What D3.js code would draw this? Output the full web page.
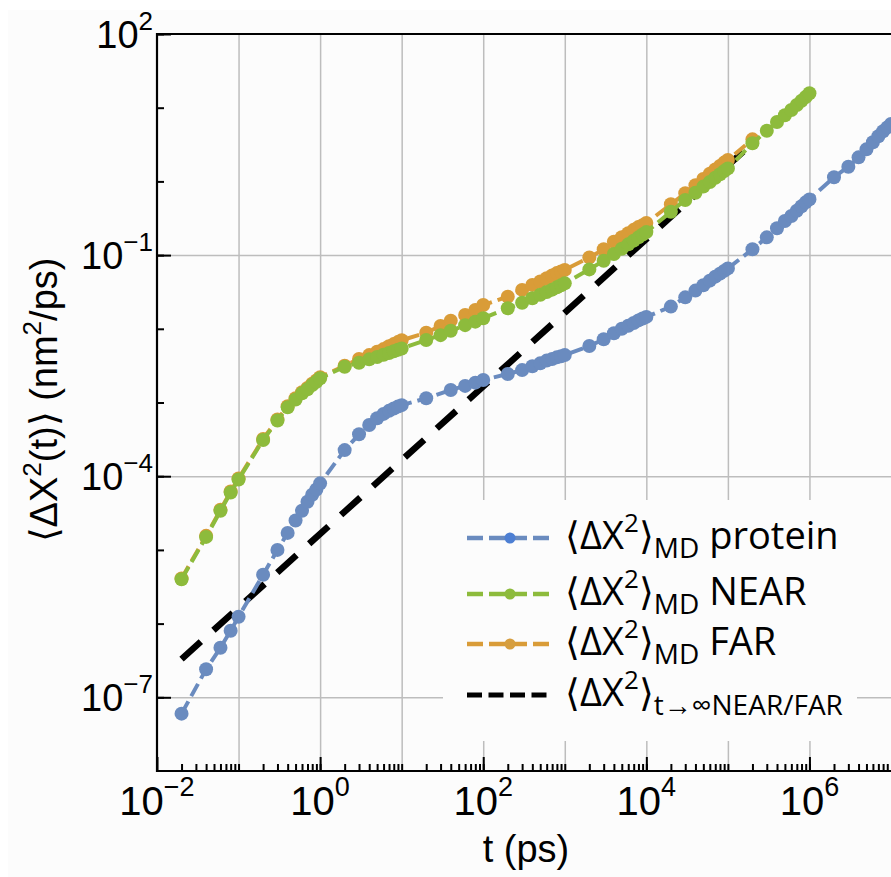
<!DOCTYPE html>
<html><head><meta charset="utf-8">
<script src="https://cdn.jsdelivr.net/npm/d3@7/dist/d3.min.js"></script>
<style>body{margin:0;background:#fff}</style>
</head><body>
<svg id="chart" width="891" height="877"></svg>
<script>
// ---------------- data ----------------
const seriesNames = ["protein", "NEAR", "FAR"];

const tProtein = [0.02,0.04,0.06,0.08,0.1,0.2,0.3,0.4,0.5,0.6,0.7,0.8,0.9,1,2,3,4,5,6,7,8,9,10,20,40,60,80,100,200,300,400,500,600,700,800,900,1000,2000,3000,4000,5000,6000,7000,8000,9000,1e4,2e4,3e4,4e4,5e4,6e4,7e4,8e4,9e4,1e5,2e5,3e5,4e5,5e5,6e5,7e5,8e5,9e5,1e6,2e6,3e6,4e6,5e6,6e6,7e6,8e6,9e6,1e7];
const yProtein = [6.0e-8,2.4e-7,4.7e-7,8.0e-7,1.24e-6,4.6e-6,1.0e-5,1.7e-5,2.5e-5,3.4e-5,4.5e-5,5.6e-5,6.6e-5,8.0e-5,2.26e-4,3.7e-4,4.95e-4,6.1e-4,7.0e-4,7.7e-4,8.3e-4,8.8e-4,9.2e-4,1.14e-3,1.48e-3,1.68e-3,1.86e-3,2.02e-3,2.44e-3,2.75e-3,3.1e-3,3.4e-3,3.7e-3,3.9e-3,4.1e-3,4.25e-3,4.4e-3,5.85e-3,7.2e-3,8.7e-3,1.0e-2,1.1e-2,1.2e-2,1.3e-2,1.38e-2,1.45e-2,2.0e-2,2.67e-2,3.3e-2,3.9e-2,4.5e-2,5.1e-2,5.6e-2,6.1e-2,6.6e-2,0.12,0.174,0.231,0.29,0.34,0.40,0.46,0.52,0.57,1.14,1.58,2.12,2.72,3.4,4.1,4.8,5.4,6.0];

const tNear = [0.02,0.04,0.06,0.08,0.1,0.2,0.3,0.4,0.5,0.6,0.7,0.8,0.9,1,2,3,4,5,6,7,8,9,10,20,30,40,60,80,100,200,300,400,500,600,700,800,900,1000,2000,3000,4000,5000,6000,7000,8000,9000,1e4,2e4,3e4,4e4,5e4,6e4,7e4,8e4,9e4,1e5,2e5,3e5,4e5,5e5,6e5,7e5,8e5,9e5,1e6];
const yNear = [4.0e-6,1.5e-5,3.4e-5,6.0e-5,9.0e-5,3.1e-4,5.7e-4,8.6e-4,1.1e-3,1.33e-3,1.51e-3,1.73e-3,1.91e-3,2.13e-3,3.06e-3,3.47e-3,3.85e-3,4.15e-3,4.45e-3,4.7e-3,4.95e-3,5.2e-3,5.4e-3,7.05e-3,8.2e-3,9.4e-3,1.12e-2,1.25e-2,1.39e-2,1.9e-2,2.26e-2,2.6e-2,2.9e-2,3.15e-2,3.4e-2,3.65e-2,3.9e-2,4.14e-2,6.4e-2,8.4e-2,0.1035,0.122,0.14,0.157,0.174,0.19,0.205,0.388,0.56,0.70,0.85,0.98,1.12,1.25,1.38,1.5,3.29,4.87,6.4,7.9,9.3,10.9,12.4,14.0,15.7];

const tFar = [0.02,0.04,0.06,0.08,0.1,0.2,0.3,0.4,0.5,0.6,0.7,0.8,0.9,1,2,3,4,5,6,7,8,9,10,20,30,40,60,80,100,200,300,400,500,600,700,800,900,1000,2000,3000,4000,5000,6000,7000,8000,9000,1e4,2e4,3e4,4e4,5e4,6e4,7e4,8e4,9e4,1e5,2e5];
const yFar = [4.1e-6,1.55e-5,3.5e-5,6.2e-5,9.3e-5,3.2e-4,5.9e-4,8.9e-4,1.14e-3,1.38e-3,1.57e-3,1.8e-3,1.99e-3,2.2e-3,3.15e-3,3.9e-3,4.4e-3,4.9e-3,5.3e-3,5.8e-3,6.2e-3,6.6e-3,7.0e-3,8.85e-3,1.09e-2,1.29e-2,1.54e-2,1.8e-2,2.1e-2,2.73e-2,3.37e-2,3.94e-2,4.4e-2,4.85e-2,5.3e-2,5.7e-2,6.0e-2,6.3e-2,9.3e-2,0.12,0.152,0.175,0.198,0.22,0.24,0.255,0.272,0.49,0.69,0.89,1.08,1.27,1.45,1.62,1.8,1.95,3.72];

const tLimit = [0.02, 2e5];
const yLimit = [3.3e-7, 3.3];

const xLabelPowers = [-2, 0, 2, 4, 6];
const yLabelPowers = [2, -1, -4, -7];

// ---------------- layout ----------------
const W = 891, H = 877;
const L = 157, R = 891, T = 34, B = 771;
const bg = "#fcfcfc";
const colors = {protein: "#6a8bbf", NEAR: "#8dbb3c", FAR: "#d99c38"};
const legendMarker = {protein: "#4d7fd3", NEAR: "#8dbb3c", FAR: "#d69e3f"};

const svg = d3.select("#chart");
svg.append("rect").attr("x", 8).attr("y", 10).attr("width", W).attr("height", H).attr("fill", bg);

const x = d3.scaleLog().domain([1e-2, 1e7]).range([L, R]);
const y = d3.scaleLog().domain([1e-8, 1e2]).range([B, T]);

const decadesX = d3.range(-1, 7).map(p => Math.pow(10, p));
const minorX = [];
for (let p = -2; p < 7; p++) for (let k = 1; k <= 9; k++) { const v = k * Math.pow(10, p); if (v > 1e-2 && v < 1e7) minorX.push(v); }
const decadesY = d3.range(-7, 3).map(p => Math.pow(10, p));

// grid
const grid = svg.append("g");
grid.append("g").attr("transform", `translate(0,${B})`)
  .call(d3.axisBottom(x).tickValues(decadesX).tickSize(-(B - T)).tickFormat(""))
  .call(g => g.select(".domain").remove())
  .call(g => g.selectAll("line").attr("stroke", "#bdbdbd").attr("stroke-width", 1.5));
grid.append("g").attr("transform", `translate(${L},0)`)
  .call(d3.axisLeft(y).tickValues(yLabelPowers.filter(p => p < 2).map(p => Math.pow(10, p))).tickSize(-(R - L)).tickFormat(""))
  .call(g => g.select(".domain").remove())
  .call(g => g.selectAll("line").attr("stroke", "#bdbdbd").attr("stroke-width", 1.5));

// legend background (covers gridlines)
svg.append("rect").attr("x", 443).attr("y", 500).attr("width", 414).attr("height", 241).attr("fill", bg);

// axes ticks (inward)
const axG = svg.append("g");
axG.append("g").attr("transform", `translate(0,${B})`)
  .call(d3.axisBottom(x).tickValues(minorX).tickSize(-7).tickFormat(""))
  .call(g => g.select(".domain").remove());
axG.append("g").attr("transform", `translate(0,${B})`)
  .call(d3.axisBottom(x).tickValues(xLabelPowers.map(p => Math.pow(10, p))).tickSize(-14).tickFormat(""))
  .call(g => g.select(".domain").remove());
axG.append("g").attr("transform", `translate(${L},0)`)
  .call(d3.axisLeft(y).tickValues(decadesY).tickSize(-7).tickFormat(""))
  .call(g => g.select(".domain").remove());
axG.append("g").attr("transform", `translate(${L},0)`)
  .call(d3.axisLeft(y).tickValues(yLabelPowers.map(p => Math.pow(10, p))).tickSize(-14).tickFormat(""))
  .call(g => g.select(".domain").remove());
axG.selectAll("line").attr("stroke", "#000").attr("stroke-width", 2);

// frame
svg.append("path").attr("d", `M${R + 5},${T}H${L}V${B}H${R + 5}`).attr("fill", "none").attr("stroke", "#000").attr("stroke-width", 2.2);

// tick labels
const fmtPow = p => p < 0 ? "\u2212" + (-p) : String(p);
const xl = svg.append("g").attr("font-family", "'Liberation Sans', Arial, sans-serif").attr("fill", "#000");
xLabelPowers.forEach(p => {
  const t = xl.append("text").attr("x", x(Math.pow(10, p))).attr("y", 815).attr("text-anchor", "middle").attr("font-size", 40);
  t.append("tspan").text("10");
  t.append("tspan").attr("font-size", 27).attr("dy", -19).text(fmtPow(p));
});
yLabelPowers.forEach(p => {
  const t = xl.append("text").attr("x", 153).attr("y", y(Math.pow(10, p)) + 14).attr("text-anchor", "end").attr("font-size", 38);
  t.append("tspan").text("10");
  t.append("tspan").attr("font-size", 26).attr("dy", -18).text(fmtPow(p));
});

// axis titles
xl.append("text").attr("x", 526).attr("y", 862).attr("text-anchor", "middle").attr("font-size", 38).text("t (ps)");
const yt = xl.append("text").attr("transform", "translate(57,400) rotate(-90)").attr("text-anchor", "middle").attr("font-size", 38);
yt.append("tspan").text("\u27E8\u0394X");
yt.append("tspan").attr("font-size", 26).attr("dy", -16).text("2");
yt.append("tspan").attr("dy", 16).text("(t)\u27E9 (nm");
yt.append("tspan").attr("font-size", 26).attr("dy", -16).text("2");
yt.append("tspan").attr("dy", 16).text("/ps)");

// data lines
const line = d3.line().x(d => x(d[0])).y(d => y(d[1]));
const limitPts = d3.zip(tLimit, yLimit);
svg.append("path").datum(limitPts).attr("d", line).attr("fill", "none").attr("stroke", "#000").attr("stroke-width", 6.5).attr("stroke-dasharray", "26,17");

const series = [
  {name: "protein", pts: d3.zip(tProtein, yProtein)},
  {name: "FAR", pts: d3.zip(tFar, yFar)},
  {name: "NEAR", pts: d3.zip(tNear, yNear)}
];
series.forEach(s => {
  const g = svg.append("g");
  g.append("path").datum(s.pts).attr("d", line).attr("fill", "none").attr("stroke", colors[s.name]).attr("stroke-width", 4).attr("stroke-dasharray", "14,6");
  g.selectAll("circle").data(s.pts).join("circle").attr("cx", d => x(d[0])).attr("cy", d => y(d[1])).attr("r", 7).attr("fill", colors[s.name]);
});

// legend
const legendRows = [
  {name: "protein", sub: "MD", label: " protein", ly: 538},
  {name: "NEAR", sub: "MD", label: " NEAR", ly: 594},
  {name: "FAR", sub: "MD", label: " FAR", ly: 644},
  {name: "limit", sub: "t\u2192\u221ENEAR/FAR", label: "", ly: 695}
];
const lg = svg.append("g").attr("font-family", "'Open Sans', sans-serif").attr("fill", "#000");
legendRows.forEach(r => {
  if (r.name === "limit") {
    lg.append("line").attr("x1", 467).attr("x2", 549).attr("y1", r.ly).attr("y2", r.ly).attr("stroke", "#000").attr("stroke-width", 5).attr("stroke-dasharray", "15,6.5");
  } else {
    lg.append("line").attr("x1", 467).attr("x2", 549).attr("y1", r.ly).attr("y2", r.ly).attr("stroke", colors[r.name]).attr("stroke-width", 4.5).attr("stroke-dasharray", "16,6");
    lg.append("circle").attr("cx", 510).attr("cy", r.ly).attr("r", 5.5).attr("fill", legendMarker[r.name]);
  }
  const t = lg.append("text").attr("x", 565).attr("y", r.ly + 11).attr("font-size", 38);
  t.append("tspan").text("\u27E8\u0394X");
  t.append("tspan").attr("font-size", 26).attr("dy", -17).text("2");
  t.append("tspan").attr("dy", 17).text("\u27E9");
  t.append("tspan").attr("font-size", 28).attr("dy", 9).text(r.sub);
  if (r.label) t.append("tspan").attr("dy", -9).text(r.label);
});
</script>
</body></html>
